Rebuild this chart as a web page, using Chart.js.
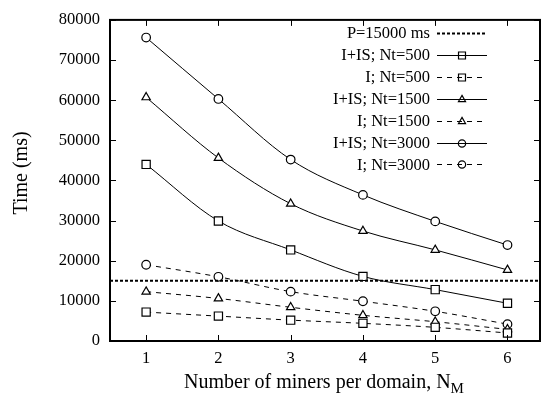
<!DOCTYPE html>
<html>
<head>
<meta charset="utf-8">
<script src="https://cdn.jsdelivr.net/npm/chart.js@4/dist/chart.umd.min.js"></script>
<style>
  html, body { margin: 0; padding: 0; background: #fff; }
  #wrap { width: 547px; height: 400px; }
</style>
</head>
<body>
<div id="wrap"><canvas id="c" width="547" height="400"></canvas></div>
<script>
// Number of miners per domain
const miners = [1, 2, 3, 4, 5, 6];
const xTickValues = [1, 2, 3, 4, 5, 6];
const yTickValues = [0, 10000, 20000, 30000, 40000, 50000, 60000, 70000, 80000];

// Times in ms
const iisNt500  = [44000, 29900, 22700, 16100, 12800, 9400];
const iNt500    = [7200, 6200, 5200, 4400, 3400, 2000];
const iisNt1500 = [60700, 45600, 34200, 27400, 22700, 17700];
const iNt1500   = [12300, 10600, 8400, 6400, 4800, 2900];
const iisNt3000 = [75600, 60300, 45200, 36400, 29800, 23900];
const iNt3000   = [19000, 16000, 12300, 9900, 7400, 4200];
const periodMs  = 15000;

const X_MIN = 0.5, X_MAX = 6.45;
const FONT = '"Liberation Serif", "Times New Roman", serif';
const RADIUS = { rect: 5.8, triangle: 4.8, circle: 4.3 };

const pts = arr => miners.map((m, i) => ({ x: m, y: arr[i] }));

function series(label, arr, shape, dashed) {
  return {
    label,
    data: pts(arr),
    borderColor: '#000',
    backgroundColor: 'rgba(0,0,0,0)',
    borderWidth: 1,
    borderDash: dashed ? [5, 5] : [],
    pointStyle: shape,
    pointRadius: RADIUS[shape],
    pointBorderWidth: 1.2,
    pointBorderColor: '#000',
    pointBackgroundColor: '#fff',
    cubicInterpolationMode: 'monotone',
    fill: false
  };
}

const datasets = [
  {
    label: 'P=15000 ms',
    data: [{ x: X_MIN, y: periodMs }, { x: X_MAX, y: periodMs }],
    borderColor: '#000',
    borderWidth: 2,
    borderDash: [3, 2],
    pointRadius: 0,
    fill: false
  },
  series('I+IS; Nt=500', iisNt500, 'rect', false),
  series('I; Nt=500', iNt500, 'rect', true),
  series('I+IS; Nt=1500', iisNt1500, 'triangle', false),
  series('I; Nt=1500', iNt1500, 'triangle', true),
  series('I+IS; Nt=3000', iisNt3000, 'circle', false),
  series('I; Nt=3000', iNt3000, 'circle', true)
];

// Frame, inward ticks on all four sides, axis titles and the key
const decorations = {
  id: 'decorations',
  afterDatasetsDraw(chart) {
    const { ctx, chartArea: a, scales: { x, y } } = chart;
    ctx.save();
    ctx.strokeStyle = '#000';
    ctx.lineWidth = 1;
    ctx.setLineDash([]);
    const T = 6;
    ctx.beginPath();
    xTickValues.forEach(v => {
      const px = Math.round(x.getPixelForValue(v)) + 0.5;
      ctx.moveTo(px, a.bottom); ctx.lineTo(px, a.bottom - T);
      ctx.moveTo(px, a.top); ctx.lineTo(px, a.top + T);
    });
    yTickValues.forEach(v => {
      const py = Math.round(y.getPixelForValue(v)) + 0.5;
      ctx.moveTo(a.left, py); ctx.lineTo(a.left + T, py);
      ctx.moveTo(a.right, py); ctx.lineTo(a.right - T, py);
    });
    ctx.stroke();
    ctx.lineWidth = 2;
    ctx.strokeRect(a.left, a.top, a.right - a.left, a.bottom - a.top);

    // x-axis title with subscript
    ctx.fillStyle = '#000';
    ctx.textBaseline = 'alphabetic';
    const main = 'Number of miners per domain, N';
    ctx.font = '20px ' + FONT;
    const wMain = ctx.measureText(main).width;
    const x0 = 184;
    ctx.textAlign = 'left';
    ctx.fillText(main, x0, 388);
    ctx.font = '15px ' + FONT;
    ctx.fillText('M', x0 + wMain, 393);

    // y-axis title
    ctx.save();
    ctx.translate(22, 173);
    ctx.rotate(-Math.PI / 2);
    ctx.textAlign = 'center';
    ctx.textBaseline = 'middle';
    ctx.font = '20px ' + FONT;
    ctx.fillText('Time (ms)', 0, 0);
    ctx.restore();

    // key
    const textRight = 430, s0 = 437, s1 = 487, mid = 462;
    ctx.font = '16.5px ' + FONT;
    ctx.textAlign = 'right';
    ctx.textBaseline = 'middle';
    chart.data.datasets.forEach((ds, i) => {
      const ry = 33 + i * 21.9;
      ctx.fillStyle = '#000';
      ctx.fillText(ds.label, textRight, ry + 1);
      ctx.strokeStyle = '#000';
      ctx.lineWidth = ds.borderWidth;
      ctx.setLineDash(ds.borderDash || []);
      ctx.beginPath();
      ctx.moveTo(s0, Math.round(ry) + 0.5);
      ctx.lineTo(s1, Math.round(ry) + 0.5);
      ctx.stroke();
      ctx.setLineDash([]);
      if (ds.pointRadius > 0) {
        ctx.lineWidth = ds.pointBorderWidth;
        ctx.fillStyle = 'rgba(0,0,0,0)';
        Chart.helpers.drawPoint(ctx, {
          pointStyle: ds.pointStyle,
          radius: ds.pointRadius * 0.85,
          rotation: 0,
          borderWidth: ds.pointBorderWidth
        }, mid, Math.round(ry) + 0.5);
      }
    });
    ctx.restore();
  }
};

new Chart(document.getElementById('c'), {
  type: 'line',
  data: { datasets },
  options: {
    responsive: false,
    animation: false,
    devicePixelRatio: 1,
    layout: { padding: { top: 6, right: 1, left: 0, bottom: 0 } },
    plugins: {
      legend: { display: false },
      tooltip: { enabled: false }
    },
    scales: {
      x: {
        type: 'linear',
        min: X_MIN,
        max: X_MAX,
        afterBuildTicks: s => { s.ticks = xTickValues.map(v => ({ value: v })); },
        afterFit: s => { s.height = 59; },
        grid: { display: false, drawTicks: false },
        border: { display: false },
        ticks: {
          padding: 8,
          color: '#000',
          font: { family: FONT, size: 16.5 },
          maxRotation: 0
        }
      },
      y: {
        type: 'linear',
        min: 0,
        max: 80000,
        afterBuildTicks: s => { s.ticks = yTickValues.map(v => ({ value: v })); },
        afterFit: s => { s.width = 110; },
        grid: { display: false, drawTicks: false },
        border: { display: false },
        ticks: {
          padding: 10,
          color: '#000',
          font: { family: FONT, size: 16.5 },
          callback: v => String(v)
        }
      }
    }
  },
  plugins: [decorations]
});
</script>
</body>
</html>
